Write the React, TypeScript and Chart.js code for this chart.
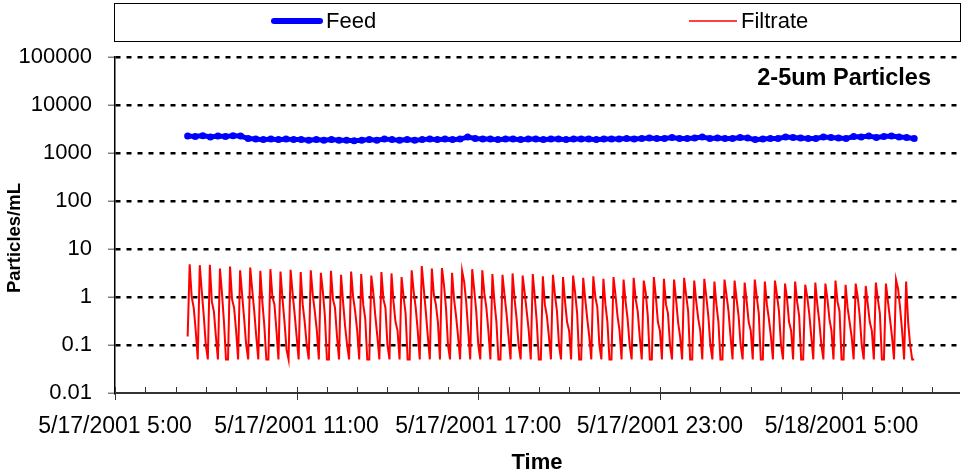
import React, { useEffect, useRef } from 'react';
import { Chart, registerables } from 'chart.js';

Chart.register(...registerables);

const FONT = '"Liberation Sans", Arial, Helvetica, sans-serif';

// ---- axis ticks / labels ----
const xTickHours = [0, 6, 12, 18, 24]; // hours after 5/17/2001 5:00
const xTickLabels = ['5/17/2001 5:00', '5/17/2001 11:00', '5/17/2001 17:00', '5/17/2001 23:00', '5/18/2001 5:00'];
const xMinHours = 0;
const xMaxHours = 27.88;
const yTickValues = [0.01, 0.1, 1, 10, 100, 1000, 10000, 100000];
const yTickLabels = ['0.01', '0.1', '1', '10', '100', '1000', '10000', '100000'];

const seriesNames = ['Feed', 'Filtrate'];
const chartNote = '2-5um Particles';
const xTitle = 'Time';
const yTitle = 'Particles/mL';

// ---- Feed: samples every 15 minutes starting 7:24 ----
const feedStartHour = 2.4;
const feedStepHours = 0.25;
const feedValues = [
  2250, 2200, 2300, 2150, 2250, 2200, 2300, 2250,
  2000, 1950, 1900, 1950, 1900, 1950, 1900, 1900,
  1850, 1900, 1850, 1900, 1850, 1850, 1800, 1850,
  1900, 1850, 1950, 1900, 1850, 1900, 1850, 1900,
  1950, 1900, 1950, 1900, 1950, 2150, 2000, 1950,
  1950, 1900, 1950, 1950, 1900, 1950, 1950, 1900,
  1950, 1950, 1900, 1950, 1950, 1950, 1900, 1950,
  1950, 1950, 2000, 1950, 2000, 2050, 2000, 2000,
  2100, 2000, 2000, 2050, 2150, 2000, 2050, 2000,
  2000, 2100, 2050, 1900, 1950, 2000, 2000, 2150,
  2100, 2050, 2000, 2000, 2150, 2100, 2050, 2000,
  2200, 2150, 2250, 2100, 2200, 2250, 2150, 2100, 2000,
];

// ---- Filtrate: samples every 4 minutes starting 7:24 ----
const filtrateStartHour = 2.4;
const filtrateStepHours = 4 / 60;
const filtrateValues = [
  0.15, 4.8, 1.0, 0.6, 0.2, 0.05, 4.6, 1.3, 0.4, 0.1, 0.05, 4.7, 0.8, 0.5, 0.15, 0.05, 3.9, 1.2, 0.3, 0.05,
  0.05, 4.3, 0.9, 0.6, 0.2, 0.05, 3.6, 1.1, 0.35, 0.1, 0.05, 4.1, 1.4, 0.5, 0.15, 0.05, 3.5, 0.8, 0.25, 0.05,
  0.05, 3.8, 1.0, 0.7, 0.2, 0.05, 3.4, 0.9, 0.3, 0.08, 0.05, 3.7, 1.2, 0.45, 0.15, 0.05, 3.3, 0.7, 0.3, 0.1,
  0.05, 3.6, 1.1, 0.5, 0.2, 0.05, 3.2, 1.3, 0.4, 0.05, 0.05, 3.5, 0.9, 0.6, 0.15, 0.05, 2.9, 0.8, 0.25, 0.1,
  0.05, 3.4, 1.0, 0.5, 0.2, 0.05, 3.0, 0.7, 0.35, 0.05, 0.05, 2.8, 1.2, 0.4, 0.15, 0.05, 3.3, 0.9, 0.6, 0.1,
  0.05, 3.1, 0.8, 0.3, 0.2, 0.05, 2.6, 1.0, 0.45, 0.05, 0.05, 3.6, 1.3, 0.6, 0.2, 0.05, 4.4, 1.5, 0.5, 0.15,
  0.05, 3.9, 1.1, 0.7, 0.3, 0.05, 4.0, 1.8, 0.6, 0.1, 0.05, 3.2, 0.9, 0.4, 0.15, 0.05, 3.5, 2.1, 0.8, 0.2,
  0.05, 3.8, 1.4, 0.5, 0.1, 0.05, 3.6, 1.2, 0.6, 0.2, 0.05, 3.0, 0.8, 0.3, 0.05, 0.05, 2.9, 1.1, 0.45, 0.15,
  0.05, 3.1, 0.9, 0.35, 0.1, 0.05, 2.8, 1.2, 0.5, 0.2, 0.05, 3.0, 1.0, 0.3, 0.05, 0.05, 2.7, 0.7, 0.4, 0.15,
  0.05, 2.9, 1.1, 0.5, 0.1, 0.05, 2.6, 0.8, 0.3, 0.2, 0.05, 2.8, 1.2, 0.45, 0.05, 0.05, 2.5, 0.9, 0.35, 0.15,
  0.05, 2.7, 1.0, 0.6, 0.1, 0.05, 2.4, 0.7, 0.3, 0.05, 0.05, 2.6, 1.1, 0.4, 0.2, 0.05, 2.3, 0.8, 0.35, 0.1,
  0.05, 2.5, 0.9, 0.5, 0.15, 0.05, 2.2, 1.2, 0.4, 0.05, 0.05, 2.6, 1.0, 0.3, 0.2, 0.05, 2.4, 0.7, 0.45, 0.1,
  0.05, 2.3, 0.9, 0.3, 0.15, 0.05, 2.5, 1.1, 0.5, 0.05, 0.05, 2.2, 0.8, 0.35, 0.2, 0.05, 2.4, 1.0, 0.4, 0.1,
  0.05, 2.1, 0.7, 0.3, 0.05, 0.05, 2.3, 1.1, 0.5, 0.15, 0.05, 2.2, 0.9, 0.4, 0.1, 0.05, 2.0, 0.8, 0.3, 0.2,
  0.05, 2.3, 1.0, 0.45, 0.05, 0.05, 2.1, 0.7, 0.35, 0.15, 0.05, 2.2, 1.1, 0.5, 0.1, 0.05, 1.9, 0.9, 0.3, 0.2,
  0.05, 2.1, 0.8, 0.4, 0.05, 0.05, 1.8, 1.0, 0.45, 0.15, 0.05, 2.0, 0.7, 0.3, 0.1, 0.05, 1.9, 0.9, 0.35, 0.2,
  0.05, 2.2, 0.8, 0.5, 0.05, 0.05, 1.8, 0.6, 0.3, 0.15, 0.05, 1.9, 1.0, 0.4, 0.1, 0.05, 1.7, 0.7, 0.3, 0.2,
  0.05, 2.0, 0.9, 0.45, 0.05, 0.05, 1.9, 0.8, 0.35, 0.15, 0.05, 2.3, 1.5, 0.6, 0.2, 0.05, 2.1, 0.3, 0.1, 0.05,
  0.05,
];

const toPoints = (start: number, step: number, values: number[]) =>
  values.map((v, i) => ({ x: start + i * step, y: v }));

const decorPlugin = {
  id: 'decor',
  afterDraw(chart: any) {
    const ctx: CanvasRenderingContext2D = chart.ctx;
    const { bottom, top } = chart.chartArea;
    const xs = chart.scales.x;
    ctx.save();
    // hourly minor ticks (inside) and 6-hour major ticks (crossing)
    ctx.strokeStyle = '#333';
    ctx.lineWidth = 1;
    for (let h = Math.ceil(xMinHours); h <= Math.floor(xMaxHours); h++) {
      const px = Math.round(xs.getPixelForValue(h)) + 0.5;
      ctx.beginPath();
      ctx.moveTo(px, bottom - 6);
      ctx.lineTo(px, xTickHours.includes(h) ? bottom + 7 : bottom);
      ctx.stroke();
    }
    // legend box
    ctx.strokeStyle = '#000';
    ctx.lineWidth = 1;
    ctx.strokeRect(114.5, 3.5, 846, 38);
    ctx.font = `22px ${FONT}`;
    ctx.textBaseline = 'middle';
    ctx.textAlign = 'left';
    ctx.fillStyle = '#000';
    // Feed sample
    ctx.strokeStyle = '#0000ff';
    ctx.lineWidth = 6;
    ctx.lineCap = 'round';
    ctx.beginPath();
    ctx.moveTo(274, 21);
    ctx.lineTo(320, 21);
    ctx.stroke();
    ctx.fillText(seriesNames[0], 326, 22);
    // Filtrate sample
    ctx.strokeStyle = '#ff0000';
    ctx.lineWidth = 1.5;
    ctx.lineCap = 'butt';
    ctx.beginPath();
    ctx.moveTo(689, 21);
    ctx.lineTo(737, 21);
    ctx.stroke();
    ctx.fillText(seriesNames[1], 741, 22);
    // note
    ctx.font = `bold 23.5px ${FONT}`;
    ctx.textAlign = 'right';
    ctx.fillText(chartNote, 931, 79);
    // y-axis title
    ctx.font = `bold 18.5px ${FONT}`;
    ctx.textAlign = 'center';
    ctx.translate(15, (top + bottom) / 2 + 13);
    ctx.rotate(-Math.PI / 2);
    ctx.fillText(yTitle, 0, 0);
    ctx.restore();
  },
};

export default function App() {
  const ref = useRef<HTMLCanvasElement | null>(null);
  useEffect(() => {
    if (!ref.current) return;
    const chart = new Chart(ref.current, {
      type: 'line',
      data: {
        datasets: [
          {
            label: seriesNames[0],
            data: toPoints(feedStartHour, feedStepHours, feedValues),
            borderColor: '#0000ff',
            backgroundColor: '#0000ff',
            borderWidth: 5,
            pointRadius: 3.5,
            pointBorderWidth: 0,
            pointBackgroundColor: '#0000ff',
            tension: 0,
          },
          {
            label: seriesNames[1],
            data: toPoints(filtrateStartHour, filtrateStepHours, filtrateValues),
            borderColor: '#ff0000',
            backgroundColor: '#ff0000',
            borderWidth: 2,
            pointRadius: 0,
            tension: 0,
          },
        ],
      },
      options: {
        animation: false,
        responsive: false,
        events: [],
        layout: { padding: { top: 57, right: 1, left: 0, bottom: 0 } },
        plugins: {
          legend: { display: false },
          tooltip: { enabled: false },
          title: { display: false },
        },
        scales: {
          x: {
            type: 'linear',
            min: xMinHours,
            max: xMaxHours,
            afterFit: (s: any) => { s.height = 83; },
            grid: { display: false },
            border: { display: true, color: '#333', width: 2 },
            ticks: {
              stepSize: 6,
              includeBounds: false,
              autoSkip: false,
              maxRotation: 0,
              minRotation: 0,
              padding: 12,
              color: '#000',
              font: { family: FONT, size: 23 },
              callback: (v: any) => {
                const i = xTickHours.indexOf(Number(v));
                return i >= 0 ? xTickLabels[i] : '';
              },
            },
            title: {
              display: true,
              text: xTitle,
              color: '#000',
              padding: 0,
              font: { family: FONT, size: 22, weight: 'bold' },
            },
          },
          y: {
            type: 'logarithmic',
            min: yTickValues[0],
            max: yTickValues[yTickValues.length - 1],
            afterFit: (s: any) => { s.width = 115; },
            afterBuildTicks: (s: any) => { s.ticks = yTickValues.map((v) => ({ value: v })); },
            grid: {
              display: true,
              color: (c: any) => (c.tick && c.tick.value === yTickValues[0] ? 'rgba(0,0,0,0)' : '#000'),
              lineWidth: 2.5,
              tickLength: 7,
              tickColor: '#808080',
              tickWidth: 1.5,
              tickBorderDash: [],
            },
            border: { display: true, color: '#000', width: 1.5, dash: [5, 6] },
            ticks: {
              padding: 16,
              color: '#000',
              font: { family: FONT, size: 22 },
              callback: (v: any) => {
                const i = yTickValues.indexOf(Number(v));
                return i >= 0 ? yTickLabels[i] : '';
              },
            },
            title: { display: false, text: yTitle },
          },
        },
      },
      plugins: [decorPlugin],
    } as any);
    return () => chart.destroy();
  }, []);
  return (
    <div style={{ position: 'fixed', left: 0, top: 0, width: 963, height: 476, background: '#fff' }}>
      <canvas ref={ref} width={963} height={476} style={{ width: 963, height: 476, display: 'block' }} />
    </div>
  );
}
